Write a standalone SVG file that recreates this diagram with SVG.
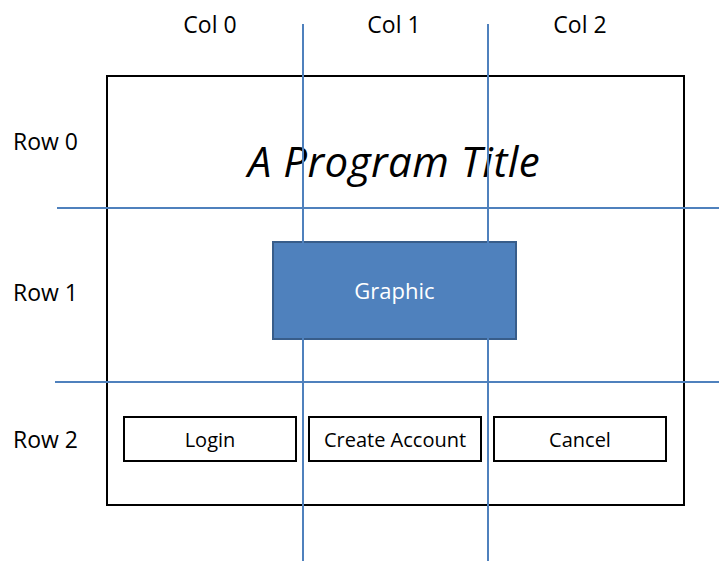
<svg xmlns="http://www.w3.org/2000/svg" width="719" height="561" viewBox="0 0 719 561">
  <style>
    text { font-family: "Open Sans", "Liberation Sans", sans-serif; fill: #000; }
    .lbl { font-size: 23px; }
    .btxt { font-size: 20px; }
    .btn { fill: #fff; stroke: #000; stroke-width: 2; }
    .grid { stroke: #4F81BD; stroke-width: 2; fill: none; }
  </style>
  <rect width="719" height="561" fill="#fff"/>

  <g id="window">
    <rect x="107" y="76" width="577" height="429" fill="#fff" stroke="#000" stroke-width="2"/>
  </g>

  <g id="title">
    <text x="394" y="177" font-size="42" font-style="italic" letter-spacing="0.5" text-anchor="middle">A Program Title</text>
  </g>

  <g id="graphic">
    <rect x="273" y="242" width="243" height="97" fill="#4F81BD" stroke="#385D8A" stroke-width="2"/>
    <text x="394.5" y="299" font-size="22" style="fill:#fff" text-anchor="middle">Graphic</text>
  </g>

  <g id="login">
    <rect class="btn" x="124" y="417" width="172" height="44"/>
    <text class="btxt" x="210" y="447" text-anchor="middle">Login</text>
  </g>
  <g id="create-account">
    <rect class="btn" x="309" y="417" width="172" height="44"/>
    <text class="btxt" x="395" y="447" text-anchor="middle">Create Account</text>
  </g>
  <g id="cancel">
    <rect class="btn" x="494" y="417" width="172" height="44"/>
    <text class="btxt" x="580" y="447" text-anchor="middle">Cancel</text>
  </g>

  <g id="labels">
    <text class="lbl" x="210" y="33" text-anchor="middle">Col 0</text>
    <text class="lbl" x="394" y="33" text-anchor="middle">Col 1</text>
    <text class="lbl" x="580" y="33" text-anchor="middle">Col 2</text>
    <text class="lbl" x="13" y="150">Row 0</text>
    <text class="lbl" x="13" y="301">Row 1</text>
    <text class="lbl" x="13" y="448">Row 2</text>
  </g>

  <g id="grid-lines">
    <line class="grid" x1="303" y1="24" x2="303" y2="561"/>
    <line class="grid" x1="488" y1="24" x2="488" y2="561"/>
    <line class="grid" x1="57" y1="208" x2="719" y2="208"/>
    <line class="grid" x1="55" y1="382" x2="719" y2="382"/>
  </g>
</svg>
